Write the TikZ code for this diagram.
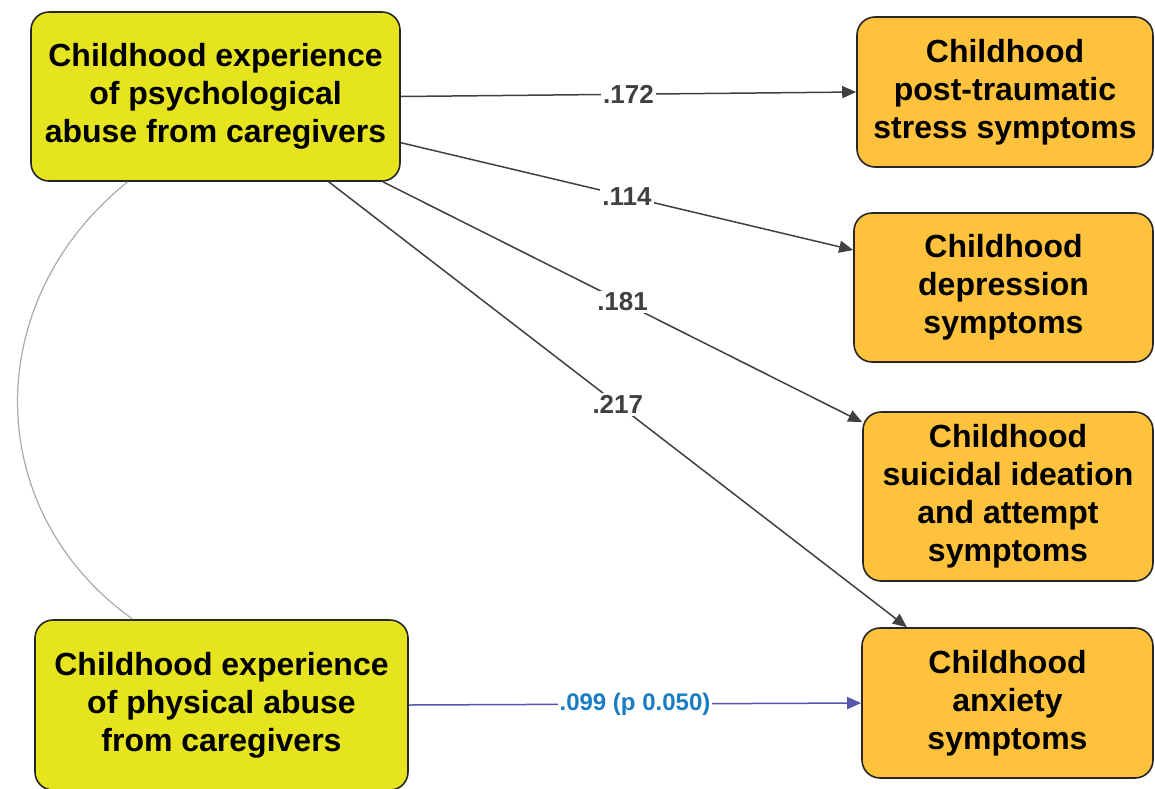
\documentclass[tikz,border=0pt]{standalone}
\usepackage{fontspec}
\setmainfont{Liberation Sans}
\usetikzlibrary{arrows.meta,calc}
\definecolor{abuseyellow}{HTML}{E6E41E}
\definecolor{outorange}{HTML}{FFC23C}
\definecolor{pathgray}{HTML}{404040}
\definecolor{covgray}{HTML}{AAAAAA}
\definecolor{weakblue}{HTML}{5555AF}
\definecolor{weaktext}{HTML}{1A7DC3}
\begin{document}
\begin{tikzpicture}
    [   x = 0.5pt
    ,   y = -0.5pt
    ,   > = {Triangle[length=7pt,width=6pt]}
    ,   box/.style =
        {   draw = black!85
        ,   line width = 0.8pt
        ,   rounded corners = 9pt
        ,   align = center
        ,   inner sep = 0pt
        ,   font = \bfseries\fontsize{16}{19}\selectfont
        }
    ,   cause/.style = {box, fill = abuseyellow}
    ,   effect/.style = {box, fill = outorange}
    ,   path/.style = {->, draw = pathgray, line width = 0.75pt}
    ,   coef/.style =
        {   fill = white
        ,   inner sep = 1pt
        ,   text = pathgray
        ,   font = \bfseries\fontsize{13}{15}\selectfont
        }
    ]
    \useasboundingbox (0,0) rectangle (1155,788);
    % predictors
    \node[cause, minimum width = 184.5pt, minimum height = 84.5pt] (A) at (215.5, 96.5)
        {Childhood experience\\of psychological\\abuse from caregivers};
    \node[cause, minimum width = 186.5pt, minimum height = 85pt] (B) at (221.5, 705)
        {Childhood experience\\of physical abuse\\from caregivers};
    % outcomes
    \node[effect, minimum width = 148pt, minimum height = 75pt] (R1) at (1005, 92)
        {Childhood\\post-traumatic\\stress symptoms};
    \node[effect, minimum width = 149.5pt, minimum height = 74.5pt] (R2) at (1003.5, 287.5)
        {Childhood\\depression\\symptoms};
    \node[effect, minimum width = 145pt, minimum height = 84.5pt] (R3) at (1008, 496.5)
        {Childhood\\suicidal ideation\\and attempt\\symptoms};
    \node[effect, minimum width = 145.5pt, minimum height = 75pt] (R4) at (1007.5, 703)
        {Childhood\\anxiety\\symptoms};
    % paths
    \foreach\s/\t/\w in {0/R1.west/.172, -14/R2.166/.114, -27/R3.153/.181, -37.5/R4.143/.217}
    {   \draw[path] (A.\s) -- node[coef] {\w} (\t);
    }
    \draw[->, draw = weakblue, line width = 0.75pt] (B.east) -- node[coef, text = weaktext, font = \bfseries\fontsize{12}{14}\selectfont] {.099 (p 0.050)} (R4.west);
    % covariance
    \draw[covgray, line width = 0.6pt] ($(A.south west)!0.263!(A.south east)$)
        .. controls (-20, 300) and (-20, 510) .. ($(B.north west)!0.263!(B.north east)$);
\end{tikzpicture}
\end{document}
